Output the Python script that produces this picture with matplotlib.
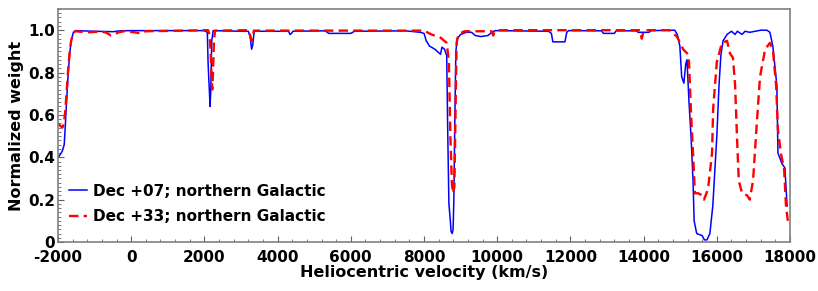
import matplotlib
matplotlib.use("Agg")
import matplotlib.pyplot as plt
from matplotlib.ticker import MultipleLocator, FixedLocator

# Dec +07 curve (velocity km/s, weight)
v_dec07 = [-2000, -1950, -1880, -1830, -1800, -1760, -1720, -1680, -1640, -1580, -1520,
           -1000, -500, -300, 0, 1000, 2000, 2080, 2100, 2120, 2140, 2155, 2175, 2200, 2240,
           3000, 3200, 3250, 3290, 3320, 3360, 4300, 4340, 4380, 4420, 5300, 5400, 6000, 6100,
           7500, 7900, 8000, 8060, 8150, 8300, 8450, 8490, 8560, 8620, 8650, 8680, 8720, 8740,
           8770, 8795, 8815, 8840, 8870, 8910, 9000, 9150, 9300, 9400, 9550, 9750, 9850, 9950,
           11400, 11480, 11520, 11850, 11900, 11950, 12850, 12900, 13200, 13250, 13800, 13850,
           14150, 14200, 14850, 14920, 14990, 15040, 15100, 15150, 15185, 15240, 15295, 15350,
           15380, 15450, 15600, 15660, 15730, 15810, 15890, 16000, 16060, 16110, 16170, 16280,
           16400, 16500, 16560, 16690, 16770, 16900, 17200, 17370, 17450, 17530, 17640, 17670,
           17780, 17860, 17910, 17920]
w_dec07 = [0.40, 0.41, 0.43, 0.46, 0.55, 0.68, 0.80, 0.89, 0.95, 0.99, 0.998,
           0.995, 0.993, 0.997, 0.998, 0.998, 0.998, 0.99, 0.85, 0.77, 0.70, 0.64, 0.72, 0.95, 0.998,
           0.995, 0.995, 0.97, 0.91, 0.93, 0.995, 0.995, 0.98, 0.985, 0.995, 0.997, 0.985, 0.985, 0.995,
           0.997, 0.99, 0.985, 0.95, 0.925, 0.91, 0.886, 0.92, 0.91, 0.88, 0.50, 0.18, 0.10, 0.05,
           0.04, 0.06, 0.20, 0.55, 0.90, 0.96, 0.98, 0.99, 0.99, 0.975, 0.97, 0.975, 0.99, 0.998,
           0.995, 0.985, 0.945, 0.945, 0.99, 0.998, 0.997, 0.985, 0.985, 0.997, 0.997, 0.99,
           0.99, 0.998, 1.0, 0.98, 0.925, 0.78, 0.75, 0.84, 0.86, 0.66, 0.50, 0.29,
           0.10, 0.04, 0.03, 0.01, 0.01, 0.04, 0.17, 0.50, 0.74, 0.88, 0.95, 0.98,
           0.995, 0.98, 0.995, 0.98, 0.995, 0.99, 1.0, 1.0, 0.99, 0.925, 0.74, 0.42,
           0.37, 0.35, 0.20, 0.17]

# Dec +33 curve
v_dec33 = [-2000, -1950, -1880, -1840, -1800, -1760, -1720, -1680, -1640, -1580, -1520,
           -1200, -900, -700, -550, -450, -350, -200, 100, 250, 400, 2100, 2140, 2170, 2195,
           2215, 2235, 2260, 2290, 3200, 3260, 3290, 3320, 3350, 8000, 8200, 8450, 8620, 8680,
           8720, 8760, 8790, 8830, 8860, 8890, 8940, 9100, 9850, 9890, 9920, 10000, 13900, 13950,
           13990, 14020, 14700, 14910, 15080, 15190, 15240, 15295, 15350, 15400, 15490, 15600,
           15650, 15760, 15870, 15900, 16000, 16140, 16280, 16360, 16440, 16500, 16550, 16600,
           16690, 16830, 16900, 16990, 17100, 17180, 17320, 17450, 17530, 17620, 17670, 17750,
           17840, 17890, 17940]
w_dec33 = [0.56, 0.55, 0.54, 0.56, 0.62, 0.72, 0.82, 0.90, 0.95, 0.99, 0.995,
           0.99, 0.993, 0.99, 0.975, 0.98, 0.99, 0.995, 0.99, 0.985, 0.995, 1.0, 0.98, 0.90, 0.78,
           0.72, 0.80, 0.95, 0.998, 1.0, 0.97, 0.95, 0.97, 0.998, 0.998, 0.98, 0.965, 0.94, 0.85,
           0.50, 0.28, 0.23, 0.26, 0.60, 0.94, 0.98, 0.995, 0.995, 0.975, 0.99, 1.0, 1.0, 0.96,
           0.99, 1.0, 1.0, 0.97, 0.91, 0.89, 0.85, 0.61, 0.42, 0.23, 0.23, 0.22,
           0.20, 0.25, 0.42, 0.63, 0.85, 0.94, 0.95, 0.89, 0.87, 0.74, 0.50, 0.29,
           0.23, 0.22, 0.20, 0.29, 0.58, 0.78, 0.91, 0.94, 0.91, 0.74, 0.53, 0.42,
           0.34, 0.17, 0.10]

y_ticks = [0, 0.2, 0.4, 0.6, 0.8, 1.0]
y_labels = ["0", "0.2", "0.4", "0.6", "0.8", "1.0"]

plt.rcParams["font.family"] = "DejaVu Sans"
plt.rcParams["font.weight"] = "bold"
plt.rcParams["axes.unicode_minus"] = False

fig = plt.figure(figsize=(8.18, 2.91), dpi=100)
ax = fig.add_axes([0.0709, 0.1684, 0.8949, 0.8006])

ax.plot(v_dec07, w_dec07, color="#0000ff", lw=1.1, label="Dec +07; northern Galactic")
ax.plot(v_dec33, w_dec33, color="#ff0000", lw=1.7, dashes=(4, 2.2),
        label="Dec +33; northern Galactic")

ax.set_xlim(-2000, 18000)
ax.set_ylim(0, 1.1)
ax.xaxis.set_major_locator(MultipleLocator(2000))
ax.xaxis.set_minor_locator(MultipleLocator(400))
ax.yaxis.set_major_locator(FixedLocator(y_ticks))
ax.set_yticklabels(y_labels)
ax.yaxis.set_minor_locator(MultipleLocator(0.02))
ax.tick_params(which="both", direction="in", colors="#606060", labelcolor="black",
               labelsize=11)
ax.tick_params(axis="x", pad=6)
ax.tick_params(axis="y", pad=2)
ax.tick_params(which="major", length=4)
ax.tick_params(which="minor", length=2)
for lab in ax.get_xticklabels() + ax.get_yticklabels():
    lab.set_fontweight("bold")
for s in ax.spines.values():
    s.set_color("#808080")
    s.set_linewidth(1.2)

ax.set_xlabel("Heliocentric velocity (km/s)", fontsize=11.5, fontweight="bold", labelpad=0)
ax.set_ylabel("Normalized weight", fontsize=11.5, fontweight="bold", labelpad=3)

ax.legend(loc="lower left", bbox_to_anchor=(0.0, 0.03), frameon=False, fontsize=11,
          handlelength=1.2, handletextpad=0.4, labelspacing=0.7, borderaxespad=0.3)

fig.savefig("out.png", dpi=100)
